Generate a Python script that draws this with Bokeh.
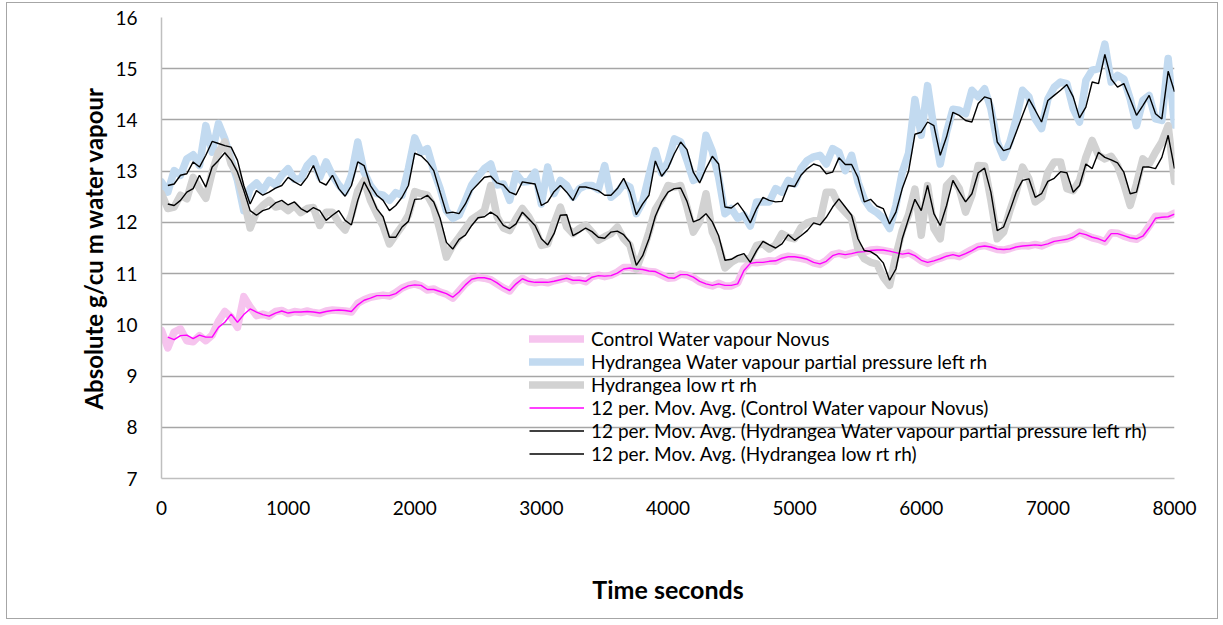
from bokeh.plotting import figure
from bokeh.models import Range1d, FixedTicker
from bokeh.embed import file_html
from bokeh.resources import INLINE

nan = float("nan")

# time axis (seconds), one reading every 50 s
times = list(range(0, 8001, 50))

x_ticks = [0, 1000, 2000, 3000, 4000, 5000, 6000, 7000, 8000]
y_ticks = [7, 8, 9, 10, 11, 12, 13, 14, 15, 16]

series_names = [
    "Control Water vapour Novus",
    "Hydrangea Water vapour partial pressure left rh",
    "Hydrangea low rt rh",
    "12 per. Mov. Avg. (Control Water vapour Novus)",
    "12 per. Mov. Avg. (Hydrangea Water vapour partial pressure left rh)",
    "12 per. Mov. Avg. (Hydrangea low rt rh)",
]

control_raw = [
    9.89, 9.55, 9.86, 9.92, 9.69, 9.67, 9.79, 9.69, 9.80, 10.07,
    10.26, 10.15, 9.95, 10.55, 10.35, 10.18, 10.21, 10.17, 10.26, 10.28,
    10.22, 10.26, 10.24, 10.27, 10.24, 10.22, 10.27, 10.29, 10.28, 10.27,
    10.25, 10.42, 10.49, 10.54, 10.56, 10.58, 10.56, 10.63, 10.72, 10.77,
    10.80, 10.76, 10.68, 10.70, 10.64, 10.60, 10.52, 10.66, 10.80, 10.90,
    10.93, 10.91, 10.88, 10.80, 10.72, 10.66, 10.82, 10.91, 10.84, 10.82,
    10.84, 10.82, 10.86, 10.89, 10.92, 10.86, 10.88, 10.84, 10.94, 10.97,
    10.94, 10.97, 11.03, 11.12, 11.12, 11.08, 11.07, 11.04, 11.03, 10.97,
    10.91, 10.92, 10.99, 10.97, 10.92, 10.84, 10.79, 10.76, 10.81, 10.76,
    10.76, 10.82, 11.10, 11.22, 11.21, 11.23, 11.25, 11.24, 11.31, 11.34,
    11.32, 11.30, 11.27, 11.21, 11.18, 11.26, 11.37, 11.40, 11.36, 11.40,
    11.43, 11.42, 11.46, 11.47, 11.45, 11.43, 11.40, 11.37, 11.41, 11.34,
    11.25, 11.20, 11.26, 11.30, 11.35, 11.36, 11.33, 11.40, 11.47, 11.53,
    11.55, 11.51, 11.47, 11.46, 11.49, 11.53, 11.55, 11.54, 11.57, 11.54,
    11.59, 11.64, 11.66, 11.68, 11.73, 11.81, 11.75, 11.70, 11.67, 11.62,
    11.80, 11.79, 11.73, 11.69, 11.67, 11.75, 11.93, 12.12, 12.12, 12.12,
    12.18,
]

left_raw = [
    12.79, 12.59, 13.01, 12.92, 13.24, 13.32, 13.11, 13.89, 13.37, 13.93,
    13.63, 13.21, 12.82, 12.23, 12.66, 12.77, 12.62, 12.82, 12.73, 12.92,
    13.05, 12.84, 12.85, 13.11, 13.24, 12.88, 13.18, 12.92, 12.73, 12.59,
    12.92, 13.57, 12.98, 12.72, 12.56, 12.53, 12.43, 12.58, 12.53, 13.05,
    13.65, 13.37, 13.44, 13.01, 12.66, 12.23, 12.08, 12.14, 12.43, 12.73,
    12.90, 13.05, 13.14, 12.73, 12.75, 12.43, 12.95, 12.79, 12.80, 12.98,
    12.36, 13.08, 12.56, 12.82, 12.72, 12.49, 12.66, 12.72, 12.72, 12.64,
    13.11, 12.49, 12.59, 12.75, 12.69, 12.17, 12.40, 12.92, 13.40, 12.96,
    13.18, 13.63, 13.57, 13.21, 12.82, 12.88, 13.70, 13.39, 12.88, 12.17,
    12.27, 12.08, 12.14, 11.93, 12.40, 12.40, 12.40, 12.66, 12.59, 12.82,
    12.75, 13.05, 13.21, 13.28, 13.31, 13.14, 13.44, 13.37, 13.01, 13.31,
    12.79, 12.45, 12.27, 12.19, 12.08, 11.88, 12.33, 12.98, 13.35, 14.40,
    13.70, 14.67, 13.83, 13.14, 13.76, 14.21, 14.19, 14.12, 14.58, 14.45,
    14.61, 14.22, 13.57, 13.27, 13.57, 14.02, 14.58, 14.45, 14.02, 13.83,
    14.41, 14.64, 14.74, 14.71, 14.22, 13.96, 14.77, 14.97, 15.00, 15.48,
    14.74, 14.87, 14.80, 14.41, 13.89, 14.38, 14.48, 14.02, 13.99, 15.20,
    13.90,
]

low_raw = [
    12.56, 12.27, 12.30, 12.53, 12.46, 12.88, 12.66, 12.47, 12.98, 13.37,
    13.57, 13.14, 12.92, 12.46, 11.89, 12.20, 12.33, 12.43, 12.30, 12.33,
    12.23, 12.33, 12.19, 12.27, 12.29, 11.94, 12.20, 12.20, 11.99, 11.85,
    12.14, 12.62, 12.82, 12.43, 12.17, 11.93, 11.58, 11.76, 11.93, 12.14,
    12.60, 12.56, 12.53, 12.30, 11.84, 11.32, 11.55, 11.71, 11.88, 12.06,
    12.14, 12.23, 12.72, 12.11, 11.89, 11.84, 12.07, 12.27, 12.11, 11.88,
    11.55, 11.58, 11.97, 12.30, 11.91, 11.78, 11.88, 11.95, 11.81, 11.65,
    11.72, 11.78, 11.91, 11.68, 11.55, 11.09, 11.42, 11.81, 12.25, 12.45,
    12.72, 12.69, 12.72, 12.30, 11.81, 12.01, 12.56, 11.81, 11.55, 11.11,
    11.22, 11.29, 11.29, 11.29, 11.55, 11.58, 11.48, 11.56, 11.78, 11.71,
    11.68, 11.90, 11.99, 12.03, 12.03, 12.59, 12.59, 12.33, 12.20, 12.07,
    11.48, 11.29, 11.22, 11.19, 10.93, 10.77, 11.35, 11.84, 12.15, 12.65,
    11.75, 12.72, 11.88, 11.68, 12.72, 12.85, 12.66, 12.20, 12.53, 13.11,
    13.10, 12.43, 11.68, 11.81, 12.23, 12.59, 13.08, 12.85, 12.40, 12.49,
    12.98, 13.18, 13.18, 12.66, 12.62, 12.82, 13.27, 13.60, 13.31, 13.24,
    13.29, 13.11, 12.75, 12.33, 12.75, 13.24, 13.14, 13.37, 13.57, 13.89,
    12.80,
]

control_ma = [
    nan, 9.76, 9.71, 9.79, 9.80, 9.73, 9.80, 9.76, 9.76, 9.95,
    10.05, 10.21, 10.05, 10.20, 10.31, 10.25, 10.20, 10.17, 10.23, 10.27,
    10.23, 10.25, 10.25, 10.26, 10.25, 10.23, 10.26, 10.28, 10.29, 10.28,
    10.26, 10.39, 10.48, 10.52, 10.57, 10.57, 10.57, 10.61, 10.70, 10.76,
    10.78, 10.77, 10.69, 10.69, 10.65, 10.61, 10.54, 10.64, 10.78, 10.89,
    10.92, 10.92, 10.89, 10.82, 10.73, 10.67, 10.80, 10.90, 10.85, 10.83,
    10.83, 10.83, 10.85, 10.88, 10.91, 10.87, 10.87, 10.85, 10.93, 10.96,
    10.95, 10.96, 11.01, 11.09, 11.11, 11.09, 11.08, 11.05, 11.04, 10.98,
    10.92, 10.91, 10.98, 10.98, 10.93, 10.85, 10.80, 10.77, 10.80, 10.77,
    10.77, 10.80, 11.06, 11.20, 11.22, 11.22, 11.24, 11.25, 11.30, 11.33,
    11.33, 11.31, 11.28, 11.22, 11.19, 11.24, 11.35, 11.39, 11.37, 11.39,
    11.42, 11.43, 11.45, 11.46, 11.46, 11.44, 11.41, 11.38, 11.40, 11.35,
    11.26, 11.22, 11.25, 11.29, 11.34, 11.37, 11.34, 11.39, 11.45, 11.52,
    11.54, 11.52, 11.48, 11.47, 11.48, 11.52, 11.54, 11.55, 11.56, 11.55,
    11.58, 11.63, 11.65, 11.67, 11.71, 11.79, 11.76, 11.71, 11.68, 11.63,
    11.78, 11.78, 11.74, 11.70, 11.68, 11.73, 11.89, 12.08, 12.10, 12.11,
    12.16,
]

left_ma = [
    nan, 12.72, 12.75, 12.92, 12.95, 13.18, 13.08, 13.31, 13.58, 13.54,
    13.50, 13.47, 13.21, 12.72, 12.36, 12.62, 12.53, 12.59, 12.67, 12.72,
    12.88, 12.79, 12.72, 12.88, 13.11, 12.79, 12.73, 12.92, 12.66, 12.51,
    12.72, 13.18, 13.11, 12.72, 12.53, 12.43, 12.23, 12.33, 12.49, 12.72,
    13.35, 13.30, 13.18, 13.01, 12.59, 12.18, 12.20, 12.17, 12.36, 12.62,
    12.75, 12.88, 12.90, 12.77, 12.73, 12.59, 12.54, 12.79, 12.77, 12.75,
    12.33, 12.40, 12.60, 12.72, 12.59, 12.43, 12.69, 12.69, 12.66, 12.62,
    12.53, 12.53, 12.66, 12.86, 12.59, 12.15, 12.36, 12.53, 13.20, 12.90,
    13.06, 13.34, 13.57, 13.42, 12.98, 12.77, 13.05, 13.29, 13.14, 12.30,
    12.28, 12.38, 12.21, 11.99, 12.27, 12.49, 12.43, 12.40, 12.41, 12.72,
    12.70, 12.92, 13.05, 13.14, 13.10, 12.95, 12.98, 13.26, 13.13, 13.13,
    12.88, 12.40, 12.45, 12.32, 12.27, 11.97, 12.20, 12.66, 13.00, 13.72,
    13.76, 13.96, 13.89, 13.31, 13.67, 14.15, 14.09, 13.99, 13.96, 14.32,
    14.45, 14.41, 13.57, 13.40, 13.44, 13.76, 14.09, 14.41, 14.19, 13.96,
    14.38, 14.48, 14.58, 14.69, 14.45, 14.04, 14.25, 14.74, 14.71, 15.28,
    14.80, 14.64, 14.71, 14.41, 14.09, 14.28, 14.48, 14.12, 14.02, 14.95,
    14.55,
]

low_ma = [
    nan, 12.36, 12.33, 12.43, 12.59, 12.66, 12.92, 12.69, 13.08, 13.21,
    13.36, 13.21, 12.98, 12.62, 12.23, 12.14, 12.23, 12.27, 12.38, 12.43,
    12.34, 12.40, 12.27, 12.20, 12.29, 12.23, 12.04, 12.14, 12.23, 12.04,
    11.95, 12.43, 12.79, 12.56, 12.27, 12.11, 11.71, 11.71, 11.91, 12.02,
    12.45, 12.46, 12.53, 12.40, 12.08, 11.61, 11.48, 11.67, 11.75, 11.94,
    12.09, 12.11, 12.20, 12.12, 11.94, 11.88, 11.97, 12.20, 12.07, 11.94,
    11.68, 11.56, 11.78, 12.14, 12.15, 11.74, 11.81, 11.89, 11.82, 11.71,
    11.69, 11.81, 11.83, 11.76, 11.61, 11.16, 11.35, 11.68, 12.12, 12.40,
    12.59, 12.66, 12.67, 12.41, 12.01, 12.06, 12.17, 12.01, 11.74, 11.26,
    11.28, 11.35, 11.39, 11.22, 11.45, 11.63, 11.56, 11.50, 11.58, 11.76,
    11.65, 11.74, 11.84, 11.99, 11.95, 12.10, 12.30, 12.46, 12.30, 12.14,
    11.68, 11.45, 11.43, 11.35, 11.21, 10.87, 11.09, 11.68, 12.07, 12.45,
    12.23, 12.72, 12.17, 11.94, 12.33, 12.82, 12.60, 12.40, 12.56, 12.97,
    13.06, 12.59, 11.84, 11.91, 12.23, 12.59, 12.82, 12.85, 12.49, 12.56,
    12.80, 12.86, 12.99, 12.97, 12.59, 12.72, 13.14, 13.05, 13.37, 13.27,
    13.22, 13.16, 12.98, 12.56, 12.59, 13.08, 13.08, 13.05, 13.27, 13.70,
    13.05,
]

FONT = "Lato"

p = figure(
    frame_width=1013, frame_height=461,
    x_range=Range1d(0, 8000), y_range=Range1d(7, 16),
    output_backend="svg", toolbar_location=None,
    min_border_left=154, min_border_top=14,
    min_border_right=43, min_border_bottom=140,
)
p.styles = {"border": "1px solid #A6A6A6", "margin-left": "6px", "margin-top": "2px"}
p.outline_line_color = None
p.background_fill_color = "white"
p.border_fill_color = "white"

# raw series (thick, pale)
p.line(times, control_raw, line_color="#F6C4EE", line_width=7.5, line_cap="round",
       line_join="round", legend_label=series_names[0])
p.line(times, left_raw, line_color="#C2DAF0", line_width=7.5, line_cap="round",
       line_join="round", legend_label=series_names[1])
p.line(times, low_raw, line_color="#D2D2D2", line_width=7.5, line_cap="round",
       line_join="round", legend_label=series_names[2])
# moving averages
p.line(times, control_ma, line_color="#FF00FF", line_width=1.4, legend_label=series_names[3])
p.line(times, left_ma, line_color="#000000", line_width=1.4, legend_label=series_names[4])
p.line(times, low_ma, line_color="#000000", line_width=1.4, legend_label=series_names[5])

p.xgrid.grid_line_color = None
p.ygrid.grid_line_color = "#A6A6A6"
p.ygrid.grid_line_width = 1.3
p.ygrid.ticker = FixedTicker(ticks=y_ticks)

p.xaxis.ticker = FixedTicker(ticks=x_ticks)
p.yaxis.ticker = FixedTicker(ticks=y_ticks)
for ax in (p.xaxis[0], p.yaxis[0]):
    ax.major_tick_line_color = None
    ax.minor_tick_line_color = None
    ax.axis_line_color = "#BFBFBF"
    ax.axis_line_width = 1.5
    ax.major_label_text_font = FONT
    ax.major_label_text_font_size = "19px"
    ax.major_label_text_color = "#000000"
    ax.axis_label_text_font = FONT
    ax.axis_label_text_font_style = "bold"
    ax.axis_label_text_color = "#000000"

p.xaxis.axis_label = "Time seconds"
p.yaxis.axis_label = "Absolute g/cu m water vapour"
p.xaxis.axis_label_text_font_size = "25px"
p.yaxis.axis_label_text_font_size = "24px"
p.xaxis.major_label_standoff = 16
p.yaxis.major_label_standoff = 18
p.xaxis.axis_label_standoff = 56
p.yaxis.axis_label_standoff = 4

lg = p.legend[0]
lg.location = (368, 13)
lg.background_fill_alpha = 0
lg.border_line_alpha = 0
lg.label_text_font = FONT
lg.label_text_font_size = "19px"
lg.label_text_color = "#000000"
lg.glyph_width = 55
lg.glyph_height = 23
lg.label_height = 23
lg.spacing = 0
lg.padding = 0
lg.margin = 0
lg.label_standoff = 7

open("out.html", "w").write(file_html(p, INLINE))
